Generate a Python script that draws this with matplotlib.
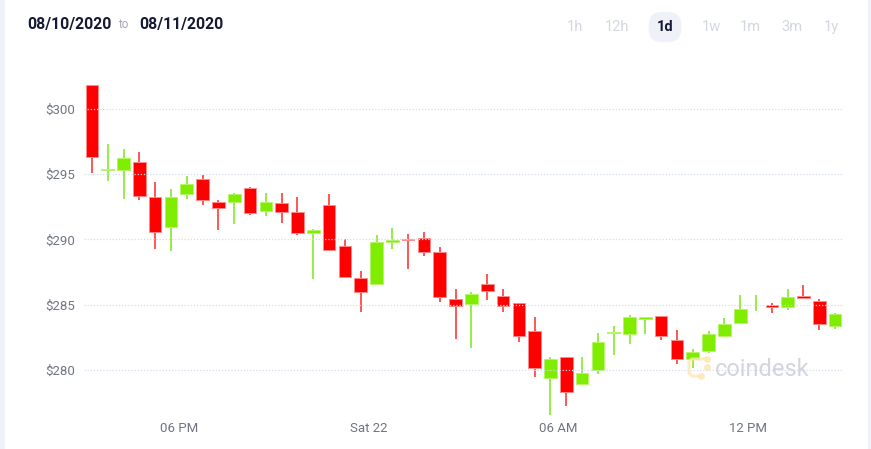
import matplotlib
matplotlib.use('Agg')
import matplotlib.pyplot as plt
import matplotlib.dates as mdates
from matplotlib.patches import Rectangle
from matplotlib.lines import Line2D
import numpy as np
import pandas as pd

plt.rcParams['font.family'] = ['Roboto', 'DejaVu Sans']

# 30 minute candles, Fri 15:00 -> Sat 15:00
times = pd.date_range('2020-08-21 15:15', periods=48, freq='30min')

opens = [301.84, 295.30, 295.30, 295.90, 293.28, 290.95, 293.46, 294.60, 292.87, 292.85, 293.97, 292.20,
         292.80, 292.10, 290.49, 292.61, 289.52, 287.00, 286.60, 289.80, 290.06, 290.11, 289.03, 285.43,
         285.02, 286.56, 285.68, 285.12, 282.98, 279.37, 280.96, 278.93, 279.98, 282.80, 282.77, 283.90,
         284.15, 282.31, 280.80, 281.42, 282.62, 283.61, 285.10, 284.96, 284.79, 285.66, 285.28, 283.38]
closes = [296.32, 295.42, 296.25, 293.35, 290.60, 293.23, 294.22, 293.05, 292.40, 293.46, 292.05, 292.90,
          292.10, 290.51, 290.72, 289.16, 287.14, 286.00, 289.80, 289.92, 289.94, 289.03, 285.58, 284.92,
          285.81, 286.02, 284.92, 282.62, 280.16, 280.83, 278.32, 279.73, 282.13, 282.92, 284.03, 284.03,
          282.57, 280.83, 281.36, 282.75, 283.51, 284.66, 285.10, 284.84, 285.58, 285.54, 283.51, 284.28]
highs = [301.84, 297.32, 296.96, 296.70, 294.40, 293.87, 294.86, 294.94, 293.02, 293.56, 294.02, 293.56,
         293.53, 293.25, 290.78, 293.48, 290.00, 287.60, 290.34, 290.87, 290.41, 290.54, 289.39, 286.20,
         285.94, 287.35, 286.20, 285.15, 284.03, 280.96, 280.96, 281.00, 282.82, 283.39, 284.23, 284.05,
         284.15, 283.02, 281.57, 282.95, 283.97, 285.74, 285.74, 285.10, 286.17, 286.53, 285.41, 284.36]
lows = [295.12, 294.50, 293.12, 293.00, 289.26, 289.13, 293.12, 292.66, 290.72, 291.18, 291.87, 291.82,
        291.28, 290.34, 286.94, 289.11, 287.14, 284.41, 286.56, 289.29, 287.75, 288.70, 285.22, 282.36,
        281.70, 285.38, 284.46, 282.10, 279.47, 276.53, 277.25, 278.93, 279.65, 281.13, 281.98, 282.77,
        282.31, 280.47, 280.16, 281.31, 282.52, 283.54, 284.53, 284.33, 284.59, 285.43, 283.05, 283.11]

price_ticks = [280, 285, 290, 295, 300]
tick_times = ['2020-08-21 18:00', '2020-08-22 00:00', '2020-08-22 06:00', '2020-08-22 12:00']
tick_labels = ['06 PM', 'Sat 22', '06 AM', '12 PM']

periods = ['1h', '12h', '1d', '1w', '1m', '3m', '1y']
active_period = '1d'

W, H = 871, 449
fig = plt.figure(figsize=(W / 100, H / 100), dpi=100)
fig.patch.set_facecolor('white')

# light frame strips left and right
for x0, w in [(0, 4.5), (868, 3)]:
    fig.add_artist(Rectangle((x0 / W, 0), w / W, 1, transform=fig.transFigure,
                             color='#eef2f8', lw=0))

ax = fig.add_axes([84 / W, (H - 415) / H, (843 - 84) / W, 335 / H])

o = np.array(opens)
c = np.array(closes)
x = mdates.date2num(times)
up = c >= o
green, red = '#7fec00', '#ff0000'
body_col = [green if u else red for u in up]
edge_col = ['#b4f56a' if u else '#ff8a8a' for u in up]
wick_col = ['#86e82a' if u else '#ff3a3a' for u in up]
heights = np.abs(c - o)
lws = [0.7 if hh > 0 else 0 for hh in heights]

ax.vlines(x, lows, highs, colors=wick_col, linewidth=1.2, zorder=1)
ax.bar(x, heights, width=0.4 / 24, bottom=np.minimum(o, c), color=body_col,
       edgecolor=edge_col, linewidth=lws, zorder=2)

ax.set_xlim(mdates.date2num(pd.Timestamp('2020-08-21 15:00')),
            mdates.date2num(pd.Timestamp('2020-08-22 15:00')))
ax.set_ylim(276.53, 302.22)

ax.set_yticks(price_ticks)
ax.set_yticklabels(['$' + str(v) for v in price_ticks])
ax.set_xticks(mdates.date2num(pd.to_datetime(tick_times)))
ax.set_xticklabels(tick_labels)
ax.yaxis.grid(True, color='#d3dcee', linestyle=(0, (1, 1.5)), linewidth=0.9)
ax.set_axisbelow(False)
for s in ax.spines.values():
    s.set_visible(False)
ax.tick_params(axis='both', length=0, labelsize=9.5, labelcolor='#6f7580')
ax.tick_params(axis='y', pad=6.5)
ax.tick_params(axis='x', pad=5)

# header
hy = 1 - 24 / H
fig.text(27 / W, hy, '08/10/2020', fontsize=11.3, fontweight='bold', color='#141a33', va='center')
fig.text(118 / W, hy, 'to', fontsize=8.5, color='#a3a8b2', va='center')
fig.text(139 / W, hy, '08/11/2020', fontsize=11.3, fontweight='bold', color='#141a33', va='center')

period_x = [575, 617, 665, 711, 750, 792, 831]
for name, px in zip(periods, period_x):
    if name == active_period:
        fig.text(px / W, 1 - 27 / H, name, fontsize=10.5, fontweight='bold', color='#141a33',
                 ha='center', va='center',
                 bbox=dict(boxstyle='round,pad=0.55,rounding_size=0.9', fc='#eef2f8', ec='none'))
    else:
        fig.text(px / W, 1 - 27 / H, name, fontsize=10.5, color='#d3d7df', ha='center', va='center')

# coindesk watermark
logo = '#fde6b6'
fig.add_artist(Line2D(np.array([706, 692, 689, 689, 692, 700]) / W,
                      1 - np.array([359, 359, 362, 373, 376, 376]) / H,
                      transform=fig.transFigure, color=logo, lw=2.2, solid_capstyle='round',
                      alpha=0.8))
for px, py in [(707, 359), (701, 376), (707, 367)]:
    fig.add_artist(Line2D([px / W], [1 - py / H], transform=fig.transFigure, marker='o',
                          ms=4, color=logo, alpha=0.8, lw=0))
fig.text(715 / W, 1 - 376 / H, 'coindesk', fontsize=17, color='#cdd1da', va='baseline',
         ha='left', alpha=0.9)

fig.savefig('out.png', dpi=100)
